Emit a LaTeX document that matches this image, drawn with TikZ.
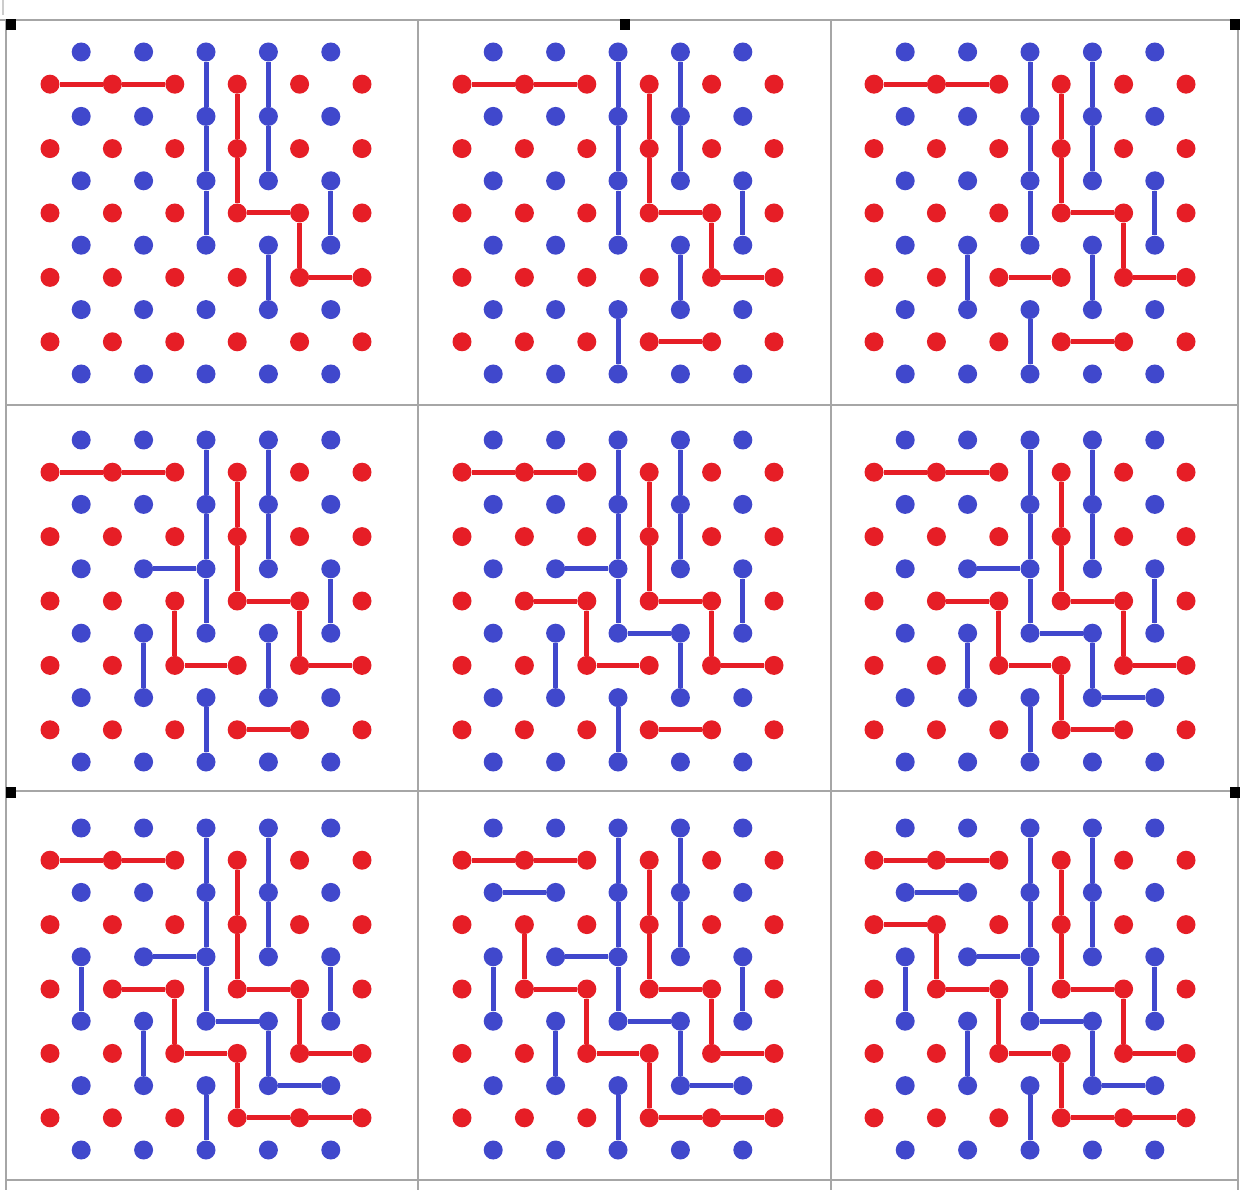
\documentclass[tikz,border=0pt]{standalone}
\usepackage{tikz}

\definecolor{bluepeg}{RGB}{64,72,204}
\definecolor{redpeg}{RGB}{230,30,38}

\begin{document}
\begin{tikzpicture}[
  bluedot/.style={circle, fill=bluepeg, inner sep=0pt, minimum size=0.38cm},
  reddot/.style={circle, fill=redpeg, inner sep=0pt, minimum size=0.38cm},
  blueedge/.style={draw=bluepeg, line width=0.1cm},
  rededge/.style={draw=redpeg, line width=0.1cm},
  frame/.style={draw=black!35, line width=0.03cm},
  handle/.style={fill=black}
]
\useasboundingbox (0,0) rectangle (24.8,23.8);

% Sheet grid: three by three frames.
\draw[frame] (0,23.4) -- (24.8,23.4);
\draw[frame] (0.12,15.7) -- (24.78,15.7);
\draw[frame] (0.12,7.98) -- (24.78,7.98);
\draw[frame] (0.12,0.2) -- (24.78,0.2);
\foreach \x in {0.12,8.36,16.62,24.76}
  \draw[frame] (\x,23.4) -- (\x,0);
\draw[frame, black!20] (0.06,23.8) -- (0.06,23.5);

% Selection handles.
\foreach \x/\y in {0.12/23.2, 12.4/23.2, 24.6/23.2, 0.12/7.84, 24.6/7.84}
  \fill[handle] (\x,\y) rectangle ++(0.2,0.22);

% --------------------------------------------------------------------------
% Boards: name/column/row/moves shown.
% --------------------------------------------------------------------------
\foreach \p/\c/\r/\n in {a/0/0/1, b/1/0/2, c/2/0/3,
                         d/0/1/4, e/1/1/5, f/2/1/6,
                         g/0/2/7, h/1/2/8, i/2/2/9}
{
  \begin{scope}[shift={({1.0+8.24*\c},{22.76-7.76*\r})}]
    % Peg lattice.
    \foreach \u in {1,3,...,9}
      \foreach \v in {0,2,...,10}
        \node[bluedot] (\p-\u-\v) at ({\u*0.624},{-\v*0.644}) {};
    \foreach \u in {0,2,...,10}
      \foreach \v in {1,3,...,9}
        \node[reddot] (\p-\u-\v) at ({\u*0.624},{-\v*0.644}) {};

    % Blue links, by move number.
    \foreach \k/\a/\b/\s/\t in {
      1/5/0/5/2, 1/5/2/5/4, 1/5/4/5/6, 1/7/0/7/2, 1/7/2/7/4,
      1/9/4/9/6, 1/7/6/7/8, 2/5/8/5/10, 3/3/6/3/8, 4/3/4/5/4,
      5/5/6/7/6, 6/7/8/9/8, 7/1/4/1/6, 8/1/2/3/2}
    {
      \ifnum\k>\n\relax\else
        \draw[blueedge] (\p-\a-\b) -- (\p-\s-\t);
      \fi
    }

    % Red links, by move number.
    \foreach \k/\a/\b/\s/\t in {
      1/0/1/2/1, 1/2/1/4/1, 1/6/1/6/3, 1/6/3/6/5, 1/6/5/8/5,
      1/8/5/8/7, 1/8/7/10/7, 2/6/9/8/9, 3/4/7/6/7, 4/4/5/4/7,
      5/2/5/4/5, 6/6/7/6/9, 7/8/9/10/9, 8/2/3/2/5, 9/0/3/2/3}
    {
      \ifnum\k>\n\relax\else
        \draw[rededge] (\p-\a-\b) -- (\p-\s-\t);
      \fi
    }
  \end{scope}
}

\end{tikzpicture}
\end{document}
